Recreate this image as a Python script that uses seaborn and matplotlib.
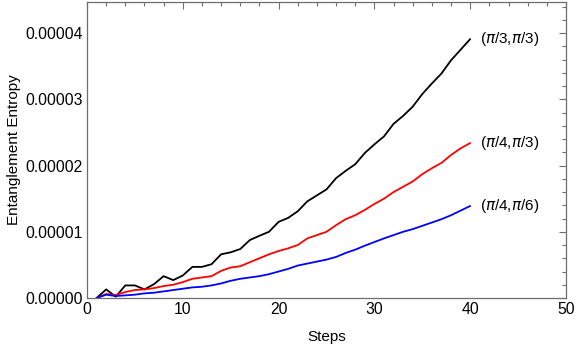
import numpy as np
import pandas as pd
import matplotlib
matplotlib.use("Agg")
import matplotlib.pyplot as plt
import seaborn as sns
from matplotlib.ticker import MultipleLocator, FormatStrFormatter

steps = list(range(1, 41))

# values in units of 1e-5
black_vals = [0.0, 0.13, 0.02, 0.19, 0.19, 0.13, 0.21, 0.33, 0.27, 0.34,
              0.47, 0.47, 0.51, 0.66, 0.69, 0.74, 0.875, 0.94, 1.0, 1.15,
              1.21, 1.31, 1.46, 1.55, 1.64, 1.81, 1.92, 2.02, 2.19, 2.32,
              2.44, 2.63, 2.75, 2.89, 3.08, 3.24, 3.39, 3.59, 3.75, 3.91]
red_vals = [0.0, 0.06, 0.045, 0.09, 0.12, 0.13, 0.15, 0.18, 0.2, 0.24,
            0.29, 0.31, 0.33, 0.41, 0.46, 0.48, 0.54, 0.6, 0.66, 0.71,
            0.75, 0.8, 0.9, 0.95, 1.0, 1.1, 1.19, 1.25, 1.33, 1.42,
            1.5, 1.6, 1.68, 1.76, 1.87, 1.96, 2.04, 2.16, 2.26, 2.34]
blue_vals = [0.0, 0.05, 0.03, 0.04, 0.05, 0.07, 0.08, 0.1, 0.12, 0.14,
             0.16, 0.17, 0.19, 0.22, 0.26, 0.29, 0.31, 0.33, 0.36, 0.4,
             0.44, 0.49, 0.52, 0.55, 0.58, 0.62, 0.68, 0.73, 0.79, 0.845,
             0.9, 0.95, 1.0, 1.04, 1.09, 1.14, 1.19, 1.25, 1.32, 1.39]

labels = ["($\\pi$/3,$\\pi$/3)", "($\\pi$/4,$\\pi$/3)", "($\\pi$/4,$\\pi$/6)"]
colors = ["#000000", "#ff0000", "#0000ff"]

rows = []
for lab, vals in zip(labels, [black_vals, red_vals, blue_vals]):
    for s, v in zip(steps, vals):
        rows.append({"Steps": s, "value": v * 1e-5, "series": lab})
df = pd.DataFrame(rows)

sns.set_style("white")
plt.rcParams['font.family'] = ['Liberation Sans', 'DejaVu Sans']
plt.rcParams['mathtext.fontset'] = 'dejavusans'

fig = plt.figure(figsize=(5.76, 3.45), dpi=100)
ax = fig.add_axes([87/576, 47/345, (566-87)/576, (298-2)/345])

sns.lineplot(data=df, x="Steps", y="value", hue="series",
             palette=dict(zip(labels, colors)), ax=ax, linewidth=1.3,
             legend=False)

for lab, vals, c in zip(labels, [black_vals, red_vals, blue_vals], colors):
    ax.text(steps[-1] + 1.0, vals[-1] * 1e-5, lab, fontsize=11,
            va="center", ha="left", color="black")

ax.set_xlim(0, 50)
ax.set_ylim(0, 4.47e-5)
ax.xaxis.set_major_locator(MultipleLocator(10))
ax.xaxis.set_minor_locator(MultipleLocator(2))
ax.yaxis.set_major_locator(MultipleLocator(1e-5))
ax.yaxis.set_minor_locator(MultipleLocator(0.2e-5))
ax.yaxis.set_major_formatter(FormatStrFormatter("%.5f"))

frame_col = "#6e6e6e"
for sp in ax.spines.values():
    sp.set_color(frame_col)
    sp.set_linewidth(0.9)
    sp.set_visible(True)
ax.tick_params(which="both", direction="in", top=True, right=True,
               color=frame_col, width=0.8, labelsize=11.3, labelcolor="black")
ax.tick_params(which="major", length=5, pad=3)
ax.tick_params(which="minor", length=3)
ax.set_xlabel("Steps", fontsize=11, labelpad=9, color="black")
ax.set_ylabel("Entanglement Entropy", fontsize=11, labelpad=3, color="black")

fig.savefig("out.png", dpi=100)
